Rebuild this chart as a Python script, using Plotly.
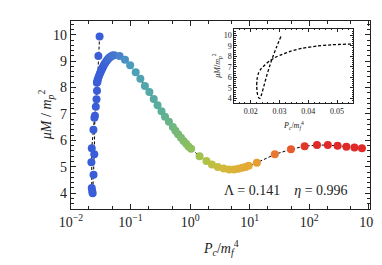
import numpy as np
import plotly.graph_objects as go

# main curve data (ordered along the curve)
pc_main = [0.0302, 0.0288, 0.0278, 0.0273, 0.0268, 0.0261, 0.0252, 0.0246, 0.0239, 0.0231,
           0.0227, 0.0223, 0.0220, 0.0223, 0.0238, 0.0247,
           0.0272, 0.0278, 0.0286, 0.0295, 0.0305, 0.0314, 0.0325, 0.0335, 0.0346, 0.0357,
           0.0370, 0.0385, 0.0400, 0.0415, 0.0430, 0.0448, 0.0470, 0.0495, 0.0530,
           0.0653, 0.0807, 0.0985, 0.122, 0.146, 0.174, 0.207, 0.245, 0.284, 0.331, 0.379,
           0.441, 0.513, 0.567, 0.628, 0.703, 0.776, 0.859, 0.938, 1.04,
           1.44, 1.88, 2.32, 2.91, 3.66, 4.53, 5.47, 6.44, 7.49, 8.50, 9.63,
           13.2, 26.4, 49.3, 83.7, 135, 205, 299, 420, 574, 767]
mu_main = [9.93, 9.19, 8.22, 7.88, 7.56, 7.27, 6.93, 5.47, 4.70, 4.00,
           4.08, 4.20, 5.17, 5.70, 6.40, 6.86,
           8.18, 8.28, 8.36, 8.44, 8.52, 8.59, 8.66, 8.73, 8.79, 8.85,
           8.91, 8.97, 9.02, 9.07, 9.11, 9.15, 9.18, 9.21, 9.22,
           9.19, 9.05, 8.84, 8.58, 8.33, 8.06, 7.83, 7.57, 7.33, 7.10, 6.89,
           6.70, 6.51, 6.36, 6.23, 6.10, 5.98, 5.87, 5.77, 5.68,
           5.40, 5.22, 5.09, 4.99, 4.93, 4.90, 4.90, 4.92, 4.96, 4.99, 5.04,
           5.15, 5.47, 5.66, 5.78, 5.82, 5.82, 5.80, 5.76, 5.73, 5.70]

# inset curve data
pc_inset = [0.0305, 0.0290, 0.0276, 0.0265, 0.0255, 0.0246, 0.0238, 0.0232,
            0.0227, 0.0223, 0.0221, 0.0222, 0.0227, 0.0237, 0.0250, 0.0265, 0.0285,
            0.0310, 0.0340, 0.0380, 0.0430, 0.0480, 0.0556]
mu_inset = [9.9, 8.9, 7.9, 7.0, 6.1, 5.2, 4.4, 4.0,
            4.1, 4.5, 5.2, 5.8, 6.4, 6.85, 7.2, 7.55, 7.9,
            8.2, 8.5, 8.78, 8.98, 9.1, 9.18]

x_tickvals = [0.01, 0.1, 1, 10, 100, 1000]
x_ticktext = ["10<sup>\u22122</sup>", "10<sup>\u22121</sup>", "10<sup>0</sup>",
              "10<sup>1</sup>", "10<sup>2</sup>", "10<sup>3</sup>"]
y_tickvals = [4, 5, 6, 7, 8, 9, 10]
inset_x_tickvals = [0.02, 0.03, 0.04, 0.05]
inset_x_ticktext = ["0.02", "0.03", "0.04", "0.05"]

colorscale = [
    [0.0, "#3a5ed8"], [0.072, "#4a80cc"], [0.13, "#4a9ebc"], [0.275, "#5aae9a"],
    [0.42, "#8cc060"], [0.507, "#b4c244"], [0.594, "#d6b83a"], [0.71, "#e6a836"],
    [0.754, "#e89a30"], [0.83, "#e87a30"], [0.913, "#e85a2e"], [1.0, "#e02a2a"],
]

FONT = "Liberation Serif"
INK = "#222222"

fig = go.Figure()
fig.add_trace(go.Scatter(
    x=pc_main, y=mu_main, mode="lines",
    line=dict(color="black", width=1, dash="3px,2px"),
    xaxis="x", yaxis="y", showlegend=False, hoverinfo="skip"))
fig.add_trace(go.Scatter(
    x=pc_main, y=mu_main, mode="markers",
    marker=dict(size=8, color=list(np.log10(pc_main)), colorscale=colorscale,
                cmin=-1.45, cmax=2.0, line=dict(width=0)),
    xaxis="x", yaxis="y", showlegend=False))
fig.add_trace(go.Scatter(
    x=pc_inset, y=mu_inset, mode="lines",
    line=dict(color="black", width=1.3, dash="3px,2px", shape="spline", smoothing=0.6),
    xaxis="x2", yaxis="y2", showlegend=False, hoverinfo="skip"))

axis_common = dict(showgrid=False, zeroline=False, showline=True, linecolor=INK,
                   linewidth=1.2, mirror="allticks", ticks="inside", tickcolor=INK)
inset_common = dict(showgrid=False, zeroline=False, showline=True, linecolor=INK,
                    linewidth=1, mirror="allticks", ticks="inside", tickcolor=INK)

fig.update_layout(
    width=382, height=265,
    margin=dict(l=63, r=13, t=12, b=64),
    paper_bgcolor="white", plot_bgcolor="white",
    font=dict(family=FONT, color=INK, size=14),
    xaxis=dict(type="log", range=[-2, 3.02], tickvals=x_tickvals, ticktext=x_ticktext,
               ticklen=5, tickwidth=1, tickfont=dict(size=14, family=FONT),
               minor=dict(ticks="inside", ticklen=3, tickcolor=INK, showgrid=False),
               domain=[0, 1], anchor="y", **axis_common),
    yaxis=dict(range=[3.4, 10.52], tickvals=y_tickvals, ticklen=5, tickwidth=1,
               tickfont=dict(size=14, family=FONT),
               minor=dict(ticks="inside", ticklen=3, dtick=0.2, tickcolor=INK, showgrid=False),
               domain=[0, 1], anchor="x", **axis_common),
    xaxis2=dict(range=[0.0143, 0.0556], tickvals=inset_x_tickvals, ticktext=inset_x_ticktext,
                ticklen=3, tickwidth=0.8, tickfont=dict(size=8, family=FONT),
                minor=dict(ticks="inside", ticklen=1.5, dtick=0.002, tickcolor=INK, showgrid=False),
                domain=[0.546, 0.944], anchor="y2", **inset_common),
    yaxis2=dict(range=[3.55, 10.65], tickvals=y_tickvals, ticklen=3, tickwidth=0.8,
                tickfont=dict(size=8, family=FONT),
                minor=dict(ticks="inside", ticklen=1.5, dtick=0.2, tickcolor=INK, showgrid=False),
                domain=[0.563, 0.96], anchor="x2", **inset_common),
)

fig.add_shape(type="rect", xref="paper", yref="paper", x0=0.546, x1=0.944, y0=0.563, y1=0.96,
              fillcolor="white", line=dict(width=0), layer="below")

fig.add_annotation(text="<i>P<sub>c</sub></i>/<i>m</i><sub><i>f</i></sub><sup>4</sup>",
                   xref="paper", yref="paper", x=0.5, y=-0.205, showarrow=False,
                   font=dict(size=14, family=FONT, color=INK), xanchor="center", yanchor="middle")
fig.add_annotation(text="<i>\u03bcM</i> / <i>m</i><sub><i>p</i></sub><sup>2</sup>",
                   xref="paper", yref="paper", x=-0.083, y=0.5, showarrow=False,
                   textangle=-90, font=dict(size=14, family=FONT, color=INK),
                   xanchor="center", yanchor="middle")
fig.add_annotation(text="\u039b = 0.141 &nbsp;&nbsp; <i>\u03b7</i> = 0.996",
                   xref="paper", yref="paper", x=0.72, y=0.1, showarrow=False,
                   font=dict(size=14, family=FONT, color=INK), xanchor="center", yanchor="middle")
fig.add_annotation(text="<i>P<sub>c</sub></i>/<i>m</i><sub><i>f</i></sub><sup>4</sup>",
                   xref="paper", yref="paper", x=0.745, y=0.445, showarrow=False,
                   font=dict(size=8, family=FONT, color=INK), xanchor="center", yanchor="middle")
fig.add_annotation(text="<i>\u03bcM</i>/<i>m</i><sub><i>p</i></sub><sup>2</sup>",
                   xref="paper", yref="paper", x=0.487, y=0.76, showarrow=False,
                   textangle=-90, font=dict(size=8, family=FONT, color=INK),
                   xanchor="center", yanchor="middle")

fig.write_html("out.html")
